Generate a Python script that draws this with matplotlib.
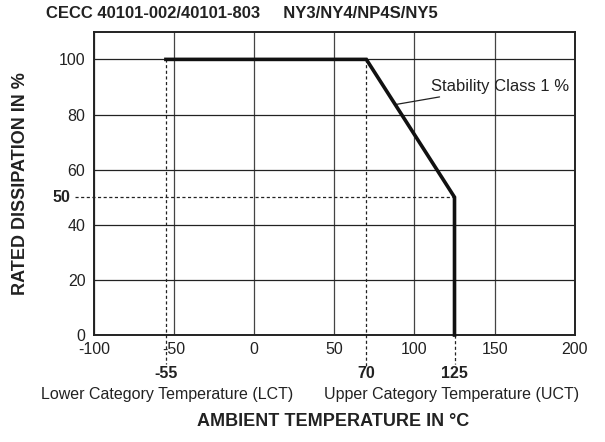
import matplotlib
matplotlib.use("Agg")
import matplotlib.pyplot as plt

plt.rcParams['font.family'] = ['Liberation Sans', 'DejaVu Sans']
plt.rcParams['axes.unicode_minus'] = False

# derating curve
temp = [-55, 70, 125, 125]
dissipation = [100, 100, 50, 0]

x_ticks = [-100, -50, 0, 50, 100, 150, 200]
y_ticks = [0, 20, 40, 60, 80, 100]

# marked temperatures (LCT, rated, UCT) and half power
t_lct = -55
t_rated = 70
t_uct = 125
p_half = 50

ink = '#222222'

fig = plt.figure(figsize=(6.05, 4.42), dpi=100)
ax = fig.add_axes([0.155, 0.242, 0.795, 0.686])

ax.set_xlim(-100, 200)
ax.set_ylim(0, 110)
ax.set_xticks(x_ticks)
ax.set_yticks(y_ticks)
ax.set_xticklabels([str(v) for v in x_ticks])
ax.tick_params(length=0, labelsize=11.5, colors=ink)
ax.tick_params(axis='x', pad=5)
ax.tick_params(axis='y', pad=6)
ax.grid(True, axis='y', color='#222222', linewidth=0.9)
ax.grid(True, axis='x', color='#444444', linewidth=0.9)
ax.set_axisbelow(True)
for s in ax.spines.values():
    s.set_linewidth(1.4)
    s.set_color(ink)

# dotted helper lines
dot = dict(color=ink, linestyle=(0, (2.5, 2)), linewidth=0.9, clip_on=False)
ax.plot([t_lct, t_lct], [100, -10.5], **dot)
ax.plot([t_rated, t_rated], [100, -11.5], **dot)
ax.plot([t_uct, t_uct], [0, -10.5], **dot)
ax.plot([-112, t_uct], [p_half, p_half], **dot)

ax.plot(temp, dissipation, color='#111111', linewidth=2.6, solid_joinstyle='miter',
        clip_on=False, zorder=5)

ax.annotate("Stability Class 1 %", xy=(88, 83.6), xytext=(110.5, 90.2),
            fontsize=12, va='center', ha='left', color=ink,
            arrowprops=dict(arrowstyle='-', color=ink, linewidth=0.9,
                            shrinkA=1, shrinkB=0))

# bold marked values
ax.text(-114.5, p_half, "50", fontsize=11.5, fontweight='bold', ha='right', va='center', color=ink)
for t in [t_lct, t_rated, t_uct]:
    ax.text(t, -13.8, str(t), fontsize=11.5, fontweight='bold', ha='center', va='center', color=ink)

fig.text(167 / 605, 1 - 395 / 442, "Lower Category Temperature (LCT)", fontsize=11.5,
         ha='center', va='center', color=ink)
fig.text(452 / 605, 1 - 395 / 442, "Upper Category Temperature (UCT)", fontsize=11.5,
         ha='center', va='center', color=ink)
fig.text(333 / 605, 1 - 421 / 442, "AMBIENT TEMPERATURE IN °C", fontsize=13,
         fontweight='bold', ha='center', va='center', color=ink)
fig.text(21 / 605, 1 - 184 / 442, "RATED DISSIPATION IN %", fontsize=13, rotation=90,
         fontweight='bold', ha='center', va='center', color=ink)
fig.text(46 / 605, 1 - 13 / 442, "CECC 40101-002/40101-803     NY3/NY4/NP4S/NY5",
         fontsize=12, fontweight='bold', ha='left', va='center', color=ink)

fig.savefig("out.png", dpi=100)
